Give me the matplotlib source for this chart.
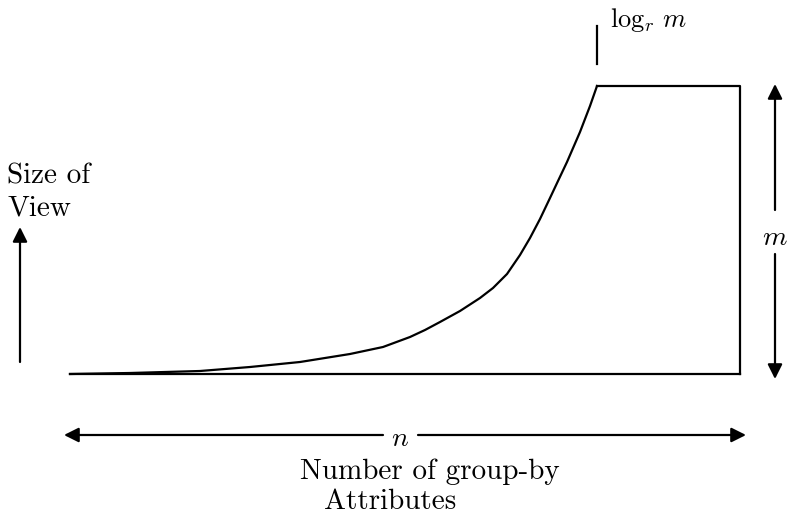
import matplotlib.pyplot as plt
from matplotlib.patches import FancyArrowPatch

plt.rcParams['mathtext.fontset'] = 'cm'

# curve (pixel coords, y downwards)
curve_x = [70, 130, 200, 250, 300, 350, 383, 410, 425, 440, 460, 480,
           493, 507, 520, 530, 540, 550, 558, 567, 580, 590, 597]
curve_y = [374, 373, 371, 367, 362, 354, 347, 337, 330, 322, 311, 298,
           288, 274, 255, 238, 219, 198, 181, 162, 132, 106, 86]
plateau_x = [597, 740, 740]
plateau_y = [86, 86, 374]
base_x = [70, 740]
base_y = [374, 374]

fig = plt.figure(figsize=(7.87, 5.17), dpi=100)
ax = fig.add_axes([0, 0, 1, 1])
ax.set_xlim(0, 787)
ax.set_ylim(517, 0)
ax.axis('off')

lw = 1.6
ax.plot(curve_x, curve_y, color='black', lw=lw, solid_joinstyle='round')
ax.plot(plateau_x, plateau_y, color='black', lw=lw)
ax.plot(base_x, base_y, color='black', lw=lw)

# small tick above the knee
ax.plot([597, 597], [26, 64], color='black', lw=lw)
ax.text(610, 27, r'$\log_r\,m$', fontsize=19, ha='left', va='baseline')


def arrow(x0, y0, x1, y1):
    a = FancyArrowPatch((x0, y0), (x1, y1), arrowstyle='-|>',
                        mutation_scale=22, color='black', lw=lw,
                        shrinkA=0, shrinkB=0)
    ax.add_patch(a)


# left "size of view" arrow
arrow(20, 362, 20, 227)
ax.text(7, 184, 'Size of', fontsize=21, family='cmr10', ha='left',
        va='baseline')
ax.text(7, 215, 'View', fontsize=21, family='cmr10', ha='left',
        va='baseline')

# right "m" arrow
arrow(775, 210, 775, 84)
arrow(775, 254, 775, 379)
ax.text(775, 245, r'$m$', fontsize=20, ha='center', va='baseline')

# bottom "n" arrow
arrow(383, 435, 64, 435)
arrow(418, 435, 746, 435)
ax.text(400, 446, r'$n$', fontsize=20, ha='center', va='baseline')

ax.text(430, 479, 'Number of group-by', fontsize=21, family='cmr10',
        ha='center', va='baseline')
ax.text(390, 509, 'Attributes', fontsize=21, family='cmr10',
        ha='center', va='baseline')

fig.savefig('out.png', dpi=100)
